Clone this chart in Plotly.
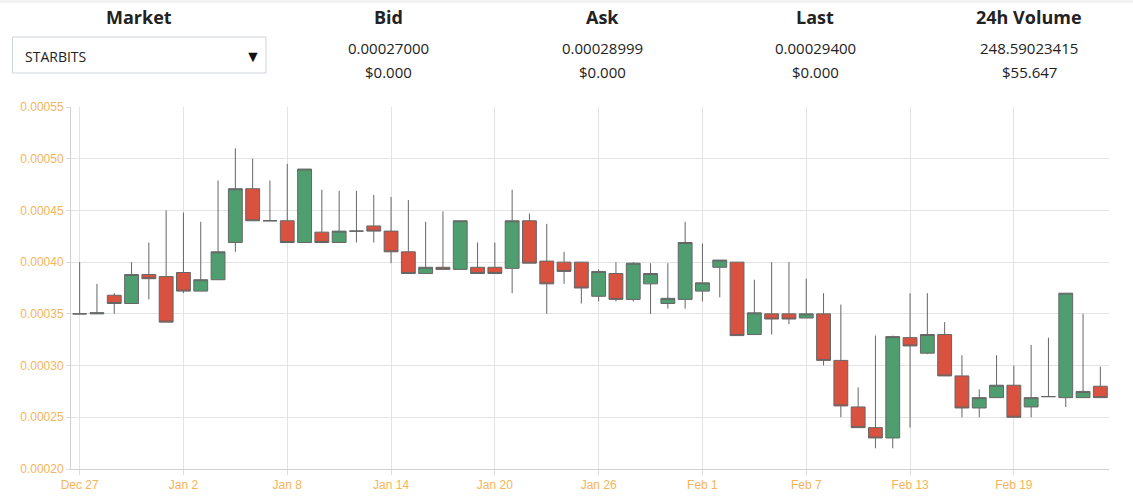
import plotly.graph_objects as go
import pandas as pd

# daily candles, Dec 27 -> Feb 24
dates = pd.date_range("2017-12-27", "2018-02-24", freq="D")

opens = [0.000350, 0.000350, 0.000368, 0.000360, 0.000388, 0.000386, 0.000390, 0.000372, 0.000383, 0.000419,
         0.000471, 0.000440, 0.000440, 0.000419, 0.000429, 0.000419, 0.000430, 0.000435, 0.000430, 0.000410,
         0.000389, 0.000395, 0.000393, 0.000395, 0.000395, 0.000394, 0.000440, 0.000401, 0.000400, 0.000400,
         0.000367, 0.000389, 0.000364, 0.000379, 0.000360, 0.000364, 0.000372, 0.000395, 0.000400, 0.000330,
         0.000350, 0.000350, 0.000346, 0.000350, 0.000305, 0.000260, 0.000240, 0.000230, 0.000327, 0.000312,
         0.000330, 0.000290, 0.000259, 0.000269, 0.000281, 0.000260, 0.000270, 0.000269, 0.000269, 0.000280]
highs = [0.000400, 0.000379, 0.000370, 0.000400, 0.000419, 0.000450, 0.000448, 0.000439, 0.000479, 0.000510,
         0.000500, 0.000479, 0.000495, 0.000490, 0.000470, 0.000469, 0.000469, 0.000465, 0.000463, 0.000460,
         0.000439, 0.000449, 0.000440, 0.000419, 0.000419, 0.000470, 0.000447, 0.000437, 0.000410, 0.000400,
         0.000393, 0.000400, 0.000400, 0.000399, 0.000399, 0.000439, 0.000418, 0.000402, 0.000400, 0.000383,
         0.000400, 0.000400, 0.000384, 0.000370, 0.000359, 0.000279, 0.000329, 0.000329, 0.000370, 0.000370,
         0.000342, 0.000310, 0.000277, 0.000310, 0.000300, 0.000320, 0.000327, 0.000370, 0.000350, 0.000299]
lows = [0.000350, 0.000350, 0.000350, 0.000360, 0.000364, 0.000342, 0.000370, 0.000372, 0.000383, 0.000410,
        0.000440, 0.000440, 0.000419, 0.000419, 0.000419, 0.000419, 0.000419, 0.000419, 0.000399, 0.000389,
        0.000389, 0.000393, 0.000393, 0.000389, 0.000389, 0.000370, 0.000399, 0.000350, 0.000379, 0.000360,
        0.000362, 0.000362, 0.000362, 0.000350, 0.000355, 0.000355, 0.000362, 0.000366, 0.000329, 0.000330,
        0.000330, 0.000340, 0.000346, 0.000300, 0.000250, 0.000240, 0.000220, 0.000220, 0.000240, 0.000311,
        0.000290, 0.000250, 0.000250, 0.000269, 0.000250, 0.000250, 0.000270, 0.000260, 0.000269, 0.000269]
closes = [0.000350, 0.000351, 0.000360, 0.000388, 0.000384, 0.000342, 0.000372, 0.000383, 0.000410, 0.000471,
          0.000440, 0.000440, 0.000419, 0.000490, 0.000419, 0.000430, 0.000430, 0.000430, 0.000410, 0.000389,
          0.000395, 0.000393, 0.000440, 0.000389, 0.000389, 0.000440, 0.000399, 0.000379, 0.000391, 0.000375,
          0.000391, 0.000364, 0.000399, 0.000389, 0.000365, 0.000419, 0.000380, 0.000402, 0.000329, 0.000351,
          0.000345, 0.000345, 0.000350, 0.000305, 0.000261, 0.000240, 0.000230, 0.000328, 0.000319, 0.000330,
          0.000290, 0.000259, 0.000269, 0.000281, 0.000250, 0.000269, 0.000270, 0.000370, 0.000275, 0.000269]

markets = ["STARBITS"]
headers = ["Bid", "Ask", "Last", "24h Volume"]
prices = ["0.00027000", "0.00028999", "0.00029400", "248.59023415"]
usd = ["$0.000", "$0.000", "$0.000", "$55.647"]

W, H = 1133, 499
PL, PR, PT, PB = 71, 1109, 107, 469   # plot area in pixels
ML, MT = PL, PT
MR, MB = W - PR, H - PB


def px_x(x):
    return (x - PL) / (PR - PL)


def px_y(y):
    return 1 - (y - PT) / (PB - PT)


fig = go.Figure(go.Candlestick(
    x=dates, open=opens, high=highs, low=lows, close=closes,
    increasing=dict(fillcolor="#4f9e70", line=dict(color="#666666", width=1)),
    decreasing=dict(fillcolor="#d8523f", line=dict(color="#666666", width=1)),
    whiskerwidth=0, hoverinfo="x+y"))

fig.update_xaxes(range=["2017-12-26 12:00", "2018-02-24 12:00"],
                 tick0="2017-12-27", dtick=6 * 86400000, tickformat="%b %-d",
                 showgrid=True, gridcolor="#e3e3e3", ticks="outside", ticklen=5, tickcolor="#dddddd",
                 showline=True, linecolor="#d0d0d0", rangeslider_visible=False, automargin=False,
                 tickfont=dict(family="Liberation Sans, Arial", size=12, color="#f6b45a"))
fig.update_yaxes(range=[0.0002, 0.00055], dtick=0.00005, tickformat=".5f",
                 showgrid=True, gridcolor="#e3e3e3", ticks="outside", ticklen=4, tickcolor="#dddddd",
                 showline=True, linecolor="#d0d0d0", zeroline=False, automargin=False,
                 tickfont=dict(family="Liberation Sans, Arial", size=12, color="#f6b45a"))

hfont = dict(family="Open Sans, Noto Sans", size=18, color="#222222")
vfont = dict(family="Open Sans, Noto Sans", size=15, color="#222222")

ann = [dict(text="<b>Market</b>", x=px_x(139), y=px_y(17), font=hfont)]
ann.append(dict(text=markets[0], x=px_x(23), y=px_y(56), xanchor="left", font=dict(vfont, size=14)))
ann.append(dict(text="\u25BC", x=px_x(253), y=px_y(56), font=dict(size=16, color="#111111")))

centers = [388, 602, 815, 1029]
for cx, h, p, u in zip(centers, headers, prices, usd):
    ann.append(dict(text="<b>%s</b>" % h, x=px_x(cx), y=px_y(17), font=hfont))
    ann.append(dict(text=p, x=px_x(cx), y=px_y(48), font=vfont))
    ann.append(dict(text=u, x=px_x(cx), y=px_y(72), font=vfont))

for a in ann:
    a.update(xref="paper", yref="paper", showarrow=False, yanchor="middle", xanchor=a.get("xanchor", "center"))

shapes = [
    # dropdown box
    dict(type="rect", xref="paper", yref="paper", x0=px_x(12.5), x1=px_x(266), y0=px_y(37), y1=px_y(73),
         line=dict(color="#cfd4da", width=1), fillcolor="white", layer="below"),
    # faint top shadow
    dict(type="rect", xref="paper", yref="paper", x0=px_x(0), x1=px_x(W), y0=px_y(0), y1=px_y(3),
         line=dict(width=0), fillcolor="rgba(0,0,0,0.05)", layer="below"),
]

fig.update_layout(width=W, height=H, margin=dict(l=ML, r=MR, t=MT, b=MB, autoexpand=False),
                  plot_bgcolor="white", paper_bgcolor="white", showlegend=False,
                  boxgap=0.2, boxgroupgap=0,
                  annotations=ann, shapes=shapes)

# drop the page's default body margin so the figure sits at the window corner
fig.write_html("out.html", config={"displayModeBar": False},
               post_script="document.body.style.margin='0px';")
